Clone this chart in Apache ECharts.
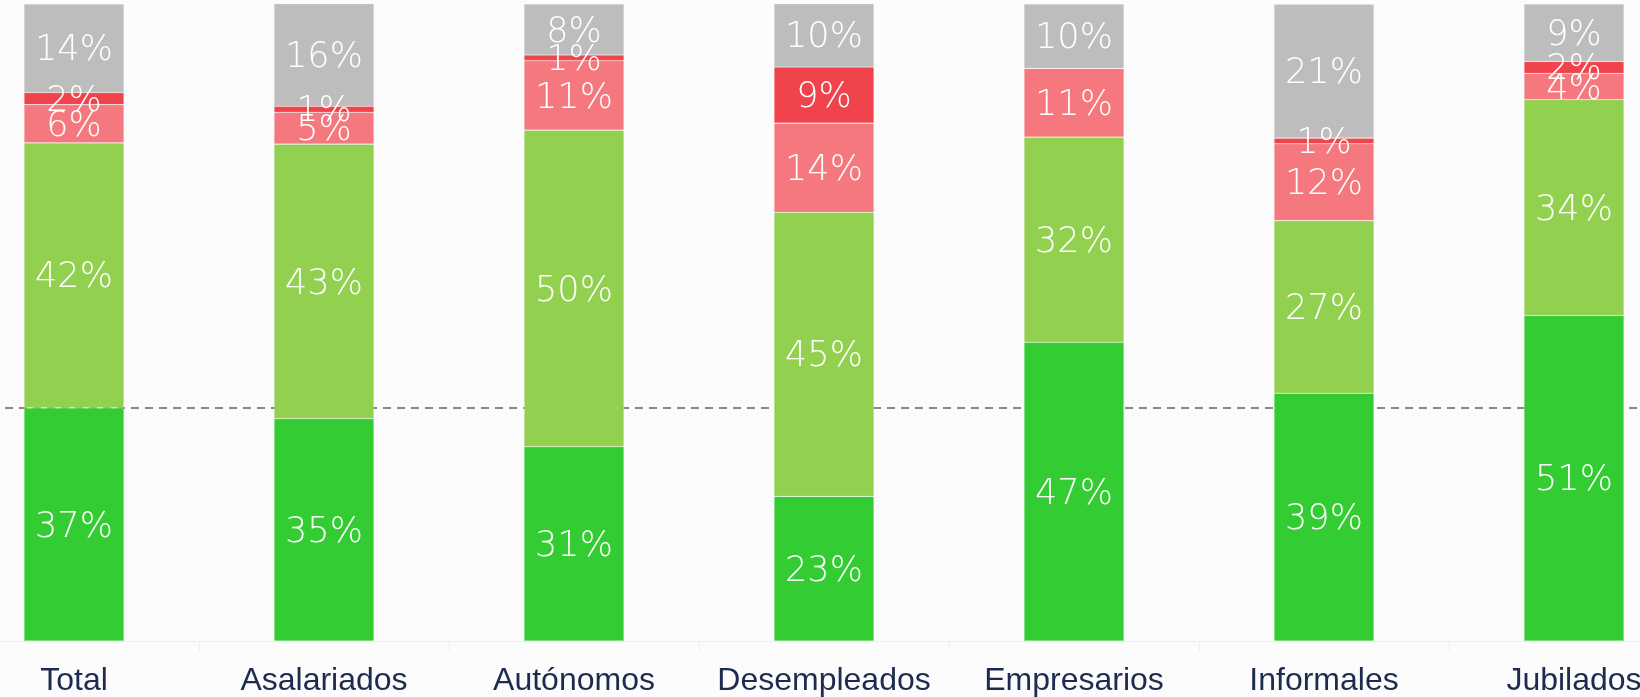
<!DOCTYPE html>
<html>
<head>
<meta charset="utf-8">
<script src="https://cdn.jsdelivr.net/npm/echarts@6/dist/echarts.min.js"></script>
<style>
  html, body { margin: 0; padding: 0; background: #fcfcfc; }
  #chart { width: 1640px; height: 697px; }
</style>
</head>
<body>
<div id="chart"></div>
<script>
const categories = ['Total', 'Asalariados', 'Autónomos', 'Desempleados', 'Empresarios', 'Informales', 'Jubilados'];

// % de respuestas por grupo (de abajo arriba)
const muyBien = [36.6, 34.9, 30.5, 22.7, 46.9, 38.9, 51.1];
const bien = [41.6, 43.1, 49.7, 44.6, 32.2, 27.1, 33.9];
const mal = [6.0, 5.0, 10.9, 14.0, 10.8, 12.05, 4.1];
const muyMal = [1.9, 0.94, 0.9, 8.8, 0, 0.9, 1.9];
const nsnc = [13.9, 16.1, 8.0, 10.0, 10.1, 21.0, 9.0];

// linea de referencia: valor del Total
const referencia = muyBien[0];

const chart = echarts.init(document.getElementById('chart'));

function serie(name, data, color) {
  return {
    name: name,
    type: 'bar',
    stack: 'total',
    barWidth: 100,
    data: data,
    itemStyle: {
      color: color,
      borderColor: 'rgba(255,255,255,0.3)',
      borderWidth: 0.6
    },
    label: {
      show: true,
      position: 'inside',
      offset: [0, 3],
      color: '#ffffff',
      fontFamily: 'DejaVu Sans',
      fontWeight: 200,
      fontSize: 35,
      formatter: function (p) {
        return p.value > 0 ? Math.round(p.value) + '%' : '';
      }
    }
  };
}

const series = [
  serie('Muy bien', muyBien, '#33cc33'),
  serie('Bien', bien, '#92d050'),
  serie('Mal', mal, '#f4787d'),
  serie('Muy mal', muyMal, '#f0434b'),
  serie('NS/NC', nsnc, '#bdbdbd')
];

series[0].markLine = {
  silent: true,
  symbol: 'none',
  z: 1,
  label: { show: false },
  lineStyle: { color: '#888888', width: 2, type: [8, 6] },
  data: [{ yAxis: referencia }]
};

chart.setOption({
  backgroundColor: '#fcfcfc',
  animation: false,
  grid: {
    left: -51, right: -59, top: 4, bottom: 56,
    containLabel: false,
    outerBoundsMode: 'none'
  },
  xAxis: {
    type: 'category',
    data: categories,
    axisLine: { lineStyle: { color: '#eeeeee', width: 1 } },
    axisTick: { show: true, length: 10, lineStyle: { color: '#eeeeee' } },
    axisLabel: {
      interval: 0,
      hideOverlap: false,
      color: '#1c2b4f',
      fontFamily: 'Liberation Sans',
      fontSize: 32,
      margin: 24
    }
  },
  yAxis: {
    type: 'value',
    min: 0,
    max: 100,
    show: false,
    splitLine: { show: false }
  },
  series: series
});

window.addEventListener('resize', () => chart.resize());
</script>
</body>
</html>
